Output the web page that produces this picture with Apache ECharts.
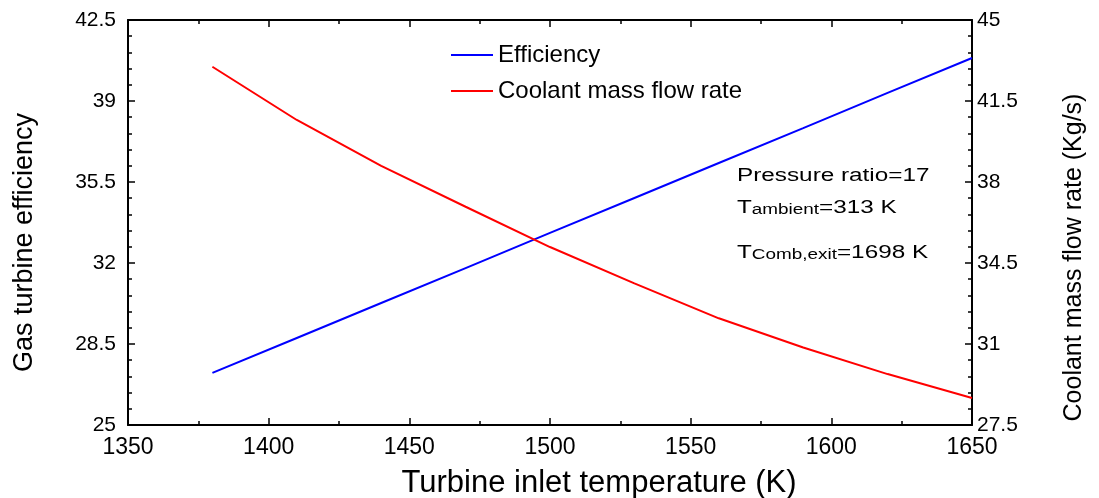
<!DOCTYPE html>
<html>
<head>
<meta charset="utf-8">
<script src="https://cdn.jsdelivr.net/npm/echarts@6/dist/echarts.min.js"></script>
<style>
html,body{margin:0;padding:0;background:#fff;}
#chart{width:1099px;height:498px;}
</style>
</head>
<body>
<div id="chart"></div>
<script>
// Data
var temperatures = [1380, 1410, 1440, 1470, 1500, 1530, 1560, 1590, 1620, 1650];
var efficiency = [27.25, 28.76, 30.27, 31.78, 33.30, 34.81, 36.32, 37.83, 39.35, 40.86];
var coolantFlow = [42.98, 40.68, 38.70, 36.93, 35.19, 33.62, 32.11, 30.85, 29.70, 28.67];

// Tick labels
var xTicks = [1350, 1400, 1450, 1500, 1550, 1600, 1650];
var leftTicks = [25, 28.5, 32, 35.5, 39, 42.5];
var rightTicks = [27.5, 31, 34.5, 38, 41.5, 45];

var seriesNames = ['Efficiency', 'Coolant mass flow rate'];
var axisTitles = {
  x: 'Turbine inlet temperature (K)',
  left: 'Gas turbine efficiency',
  right: 'Coolant mass flow rate (Kg/s)'
};

var FONT = 'Liberation Sans, Arial, Helvetica, sans-serif';

function pairs(xs, ys) {
  return xs.map(function (x, i) { return [x, ys[i]]; });
}
function plain(v) { return String(v); }

var axisLine = { show: true, onZero: false, lineStyle: { color: '#000', width: 2 } };
var tick = { show: true, inside: true, length: 7, lineStyle: { color: '#000', width: 1.5 } };

var chart = echarts.init(document.getElementById('chart'), null, { renderer: 'canvas' });

var option = {
  backgroundColor: '#fff',
  animation: false,
  grid: { left: 128, right: 127, top: 20, bottom: 73, containLabel: false, outerBoundsMode: 'none' },
  legend: {
    orient: 'vertical',
    left: 451,
    top: 43,
    padding: 0,
    icon: 'rect',
    itemWidth: 42,
    itemHeight: 2,
    itemGap: 12,
    textStyle: { fontFamily: FONT, fontSize: 24, color: '#000', padding: [0, 0, 0, 0] },
    data: seriesNames
  },
  xAxis: [
    {
      type: 'value',
      position: 'bottom',
      min: xTicks[0],
      max: xTicks[xTicks.length - 1],
      interval: xTicks[1] - xTicks[0],
      name: axisTitles.x,
      nameLocation: 'middle',
      nameGap: 43,
      nameTextStyle: { fontFamily: FONT, fontSize: 31, color: '#000', padding: [0, 0, 0, 98] },
      axisLine: axisLine,
      axisTick: tick,
      minorTick: { show: true, splitNumber: 2, length: 4, lineStyle: { color: '#000', width: 1.5 } },
      axisLabel: { show: true, margin: 11, fontFamily: FONT, fontSize: 23, color: '#000', showMinLabel: true, showMaxLabel: true, formatter: plain },
      splitLine: { show: false }
    },
    {
      type: 'value',
      position: 'top',
      min: xTicks[0],
      max: xTicks[xTicks.length - 1],
      interval: xTicks[1] - xTicks[0],
      axisLine: axisLine,
      axisTick: tick,
      minorTick: { show: true, splitNumber: 2, length: 4, lineStyle: { color: '#000', width: 1.5 } },
      axisLabel: { show: false },
      splitLine: { show: false }
    }
  ],
  yAxis: [
    {
      type: 'value',
      position: 'left',
      min: leftTicks[0],
      max: leftTicks[leftTicks.length - 1],
      interval: leftTicks[1] - leftTicks[0],
      name: axisTitles.left,
      nameLocation: 'middle',
      nameRotate: 90,
      nameGap: 90,
      nameTextStyle: { fontFamily: FONT, fontSize: 27, color: '#000', padding: [0, 40, 0, 0] },
      axisLine: axisLine,
      axisTick: tick,
      minorTick: { show: true, splitNumber: 5, length: 4, lineStyle: { color: '#000', width: 1.5 } },
      axisLabel: { show: true, margin: 12, fontFamily: FONT, fontSize: 21, color: '#000', showMinLabel: true, showMaxLabel: true, formatter: plain },
      splitLine: { show: false }
    },
    {
      type: 'value',
      position: 'right',
      min: rightTicks[0],
      max: rightTicks[rightTicks.length - 1],
      interval: rightTicks[1] - rightTicks[0],
      name: axisTitles.right,
      nameLocation: 'middle',
      nameRotate: 90,
      nameGap: 90,
      nameTextStyle: { fontFamily: FONT, fontSize: 25, color: '#000', padding: [0, 70, 0, 0] },
      axisLine: axisLine,
      axisTick: tick,
      minorTick: { show: true, splitNumber: 5, length: 4, lineStyle: { color: '#000', width: 1.5 } },
      axisLabel: { show: true, margin: 5, fontFamily: FONT, fontSize: 21, color: '#000', showMinLabel: true, showMaxLabel: true, formatter: plain },
      splitLine: { show: false }
    }
  ],
  series: [
    {
      name: seriesNames[0],
      type: 'line',
      xAxisIndex: 0,
      yAxisIndex: 0,
      data: pairs(temperatures, efficiency),
      symbol: 'none',
      showSymbol: false,
      color: '#0000ff',
      itemStyle: { color: '#0000ff' },
      lineStyle: { color: '#0000ff', width: 2 }
    },
    {
      name: seriesNames[1],
      type: 'line',
      xAxisIndex: 0,
      yAxisIndex: 1,
      data: pairs(temperatures, coolantFlow),
      symbol: 'none',
      showSymbol: false,
      color: '#ff0000',
      itemStyle: { color: '#ff0000' },
      lineStyle: { color: '#ff0000', width: 2 }
    }
  ],
  graphic: [
    {
      type: 'text',
      x: 737, y: 176, scaleX: 1.35,
      style: {
        text: 'Pressure ratio=17',
        fontFamily: FONT, fontSize: 18, fill: '#000',
        verticalAlign: 'middle', align: 'left'
      }
    },
    {
      type: 'text',
      x: 737, y: 199, scaleX: 1.35,
      style: {
        text: '{m|T}{s|ambient}{m|=313 K}',
        fill: '#000', align: 'left', verticalAlign: 'top',
        rich: {
          m: { fontFamily: FONT, fontSize: 18, lineHeight: 18, verticalAlign: 'top', fill: '#000' },
          s: { fontFamily: FONT, fontSize: 14, lineHeight: 14, verticalAlign: 'bottom', fill: '#000', padding: [10, 0, 0, 0] }
        }
      }
    },
    {
      type: 'text',
      x: 737, y: 244, scaleX: 1.35,
      style: {
        text: '{m|T}{s|Comb,exit}{m|=1698 K}',
        fill: '#000', align: 'left', verticalAlign: 'top',
        rich: {
          m: { fontFamily: FONT, fontSize: 18, lineHeight: 18, verticalAlign: 'top', fill: '#000' },
          s: { fontFamily: FONT, fontSize: 14, lineHeight: 14, verticalAlign: 'bottom', fill: '#000', padding: [10, 0, 0, 0] }
        }
      }
    }
  ]
};

chart.setOption(option);
</script>
</body>
</html>
